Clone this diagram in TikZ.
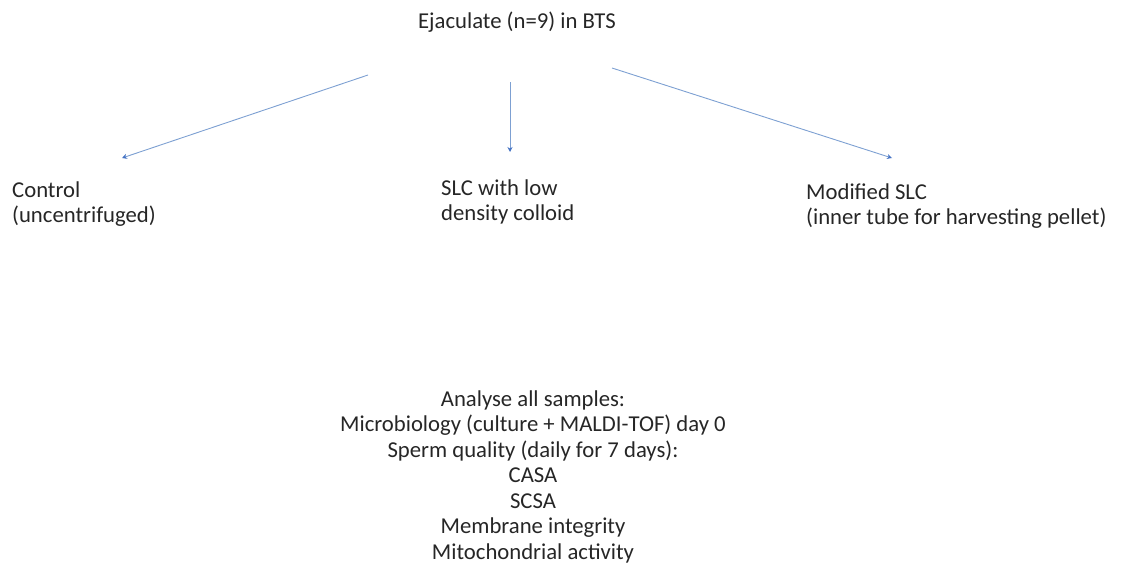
\documentclass[tikz,border=0pt]{standalone}
\usepackage{fontspec}
\setmainfont{Carlito}
\usetikzlibrary{arrows.meta}
\definecolor{arrowblue}{RGB}{125,160,210}
\definecolor{tipblue}{RGB}{68,114,196}
\begin{document}
\begin{tikzpicture}[x=1pt, y=-1pt,
        txt/.style={font=\fontsize{22.7}{25}\selectfont, inner sep=0pt, align=left, text=black!85},
        link/.style={arrowblue, line width=0.9pt, -{Stealth[length=5pt,width=5pt,tipblue]}}]
            \useasboundingbox (0,0) rectangle (1121,574);

            \node[txt, align=center, anchor=base] (ejac) at (517,28) {Ejaculate (n=9) in BTS};

            \node[txt, anchor=base west] (ctrl) at (12,222) {Control\\(uncentrifuged)};
            \node[txt, anchor=base west] (slc) at (441,220) {SLC with low\\density colloid};
            \node[txt, anchor=base west] (mslc) at (806,224) {Modified SLC\\(inner tube for harvesting pellet)};

            \node[txt, align=center, anchor=base, font=\fontsize{22.7}{25.5}\selectfont] (anal) at (533,559) {Analyse all samples:\\Microbiology (culture + MALDI-TOF) day 0\\Sperm quality (daily for 7 days):\\CASA\\SCSA\\Membrane integrity\\Mitochondrial activity};

            \coordinate (s1) at (368,75);
            \coordinate (e1) at (122,158);
            \coordinate (s2) at (510,82);
            \coordinate (e2) at (510,152);
            \coordinate (s3) at (612,68);
            \coordinate (e3) at (892,158);

            \draw[link] (s1) -- (e1);
            \draw[link] (s2) -- (e2);
            \draw[link] (s3) -- (e3);
        \end{tikzpicture}
\end{document}
